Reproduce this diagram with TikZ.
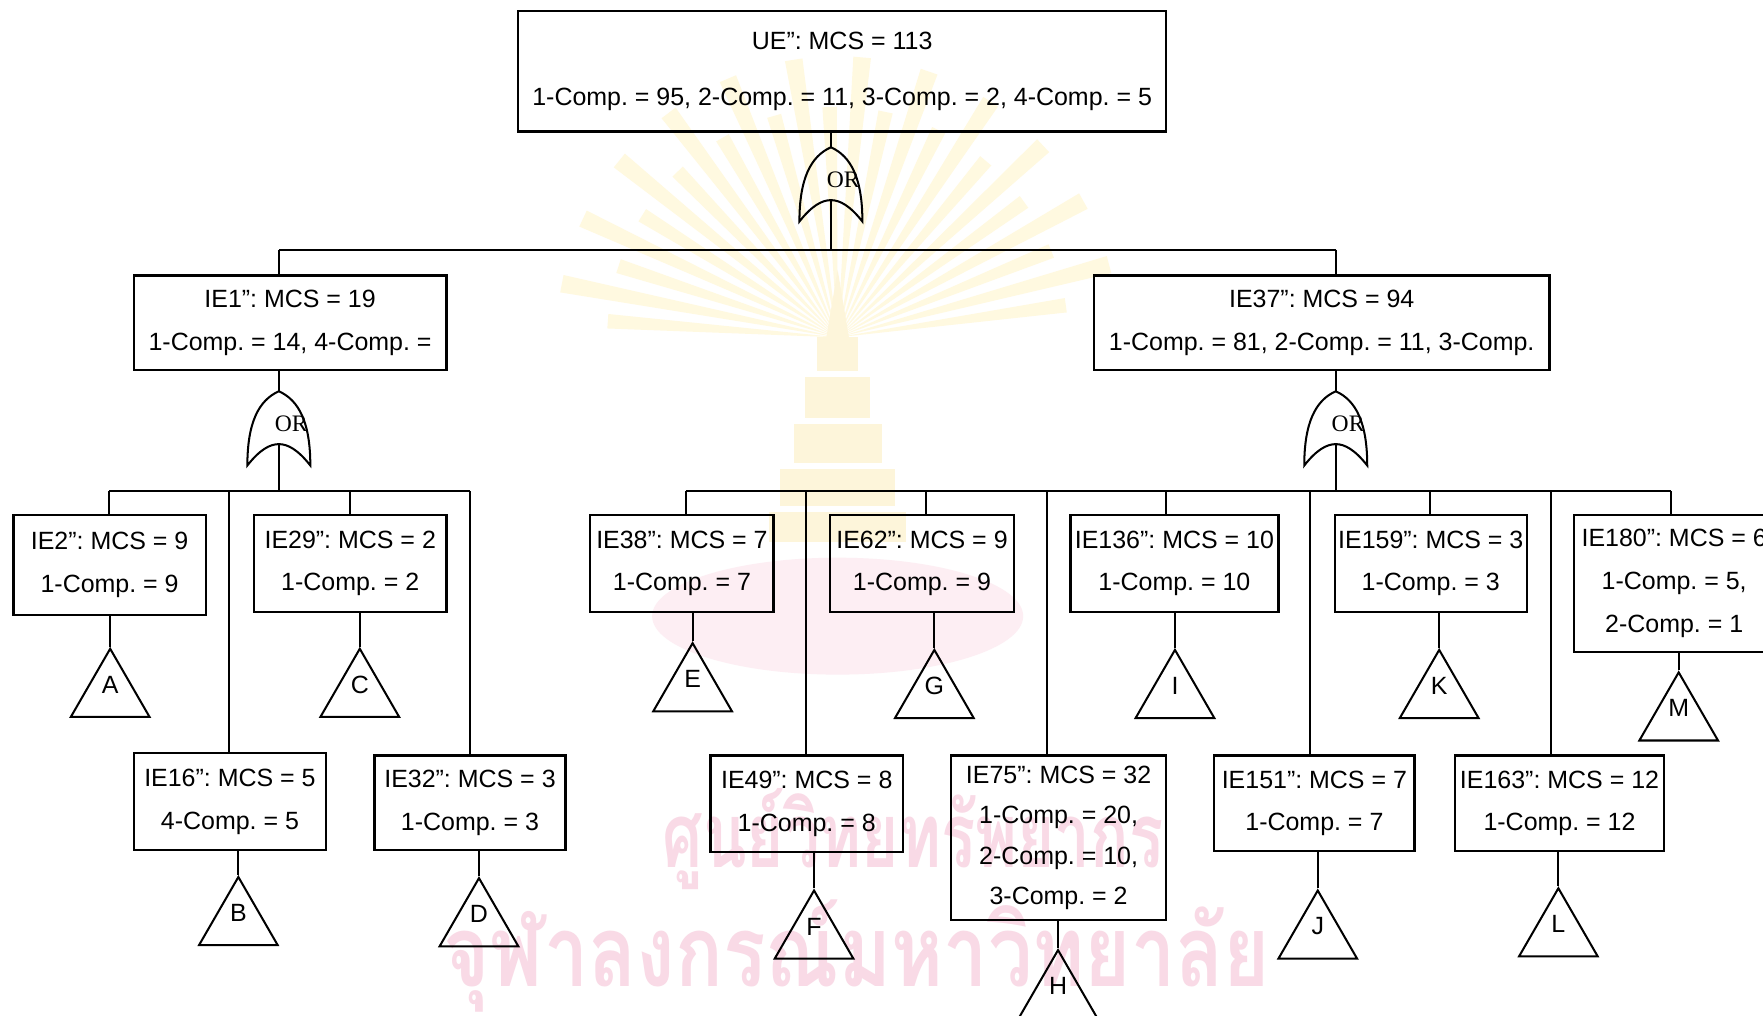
\documentclass[tikz,border=0pt]{standalone}
\usepackage{fontspec}
\usepackage{graphicx}
\setmainfont{Liberation Sans}
\newfontfamily\orfont{Liberation Serif}
\newfontfamily\thaifont[Script=Thai]{Loma}
\usetikzlibrary{shapes.geometric}
\frenchspacing
\definecolor{wmpink}{RGB}{249,218,230}
\definecolor{wmyel}{RGB}{255,249,224}
\definecolor{wmgold}{RGB}{253,245,218}
\definecolor{wmrose}{RGB}{253,238,243}
\newcommand{\orgate}[3]{%
  \draw[gate] (#1,#2) .. controls (#1-18,#2+8) and (#1-28,#2+28) .. (#1-28,#2+66)
    .. controls (#1-17,#2+52) and (#1-8,#2+47) .. (#1,#2+47)
    .. controls (#1+8,#2+47) and (#1+17,#2+52) .. (#1+28,#2+66)
    .. controls (#1+28,#2+28) and (#1+18,#2+8) .. cycle;
  \coordinate (#3in) at (#1,#2);
  \coordinate (#3out) at (#1,#2+47);
  \node[ortext] (#3lab) at (#1+11,#2+29) {OR};}
\begin{document}
\begin{tikzpicture}[x=0.5pt,y=-0.5pt,
  ev/.style={draw, line width=1pt, rectangle, inner sep=0pt, align=center,
    font=\fontsize{11.1}{19}\selectfont},
  wire/.style={line width=0.9pt},
  gate/.style={line width=0.9pt},
  tri/.style={draw, line width=0.9pt, regular polygon, regular polygon sides=3,
    minimum size=40.4pt, inner sep=0pt},
  trilab/.style={font=\fontsize{11.1}{13}\selectfont, inner sep=0pt},
  ortext/.style={font=\orfont\fontsize{10.5}{12}\selectfont, inner sep=0pt},
  wm/.style={inner sep=0pt, text=wmpink}
]
\useasboundingbox (0,0) rectangle (1568,903);
\clip (0,0) rectangle (1568,903);
\fill[white] (0,0) rectangle (1568,903);

% ---------- watermark ----------
\foreach \a [count=\i] in {-176,-169,...,-4} {
  \pgfmathsetmacro\len{ifthenelse(mod(\i,2)==0,250,205)}
  \fill[wmyel] (745,300) -- +(\a-1.8:\len) -- +(\a+1.8:\len) -- cycle;
}
\fill[wmgold] (745,240) -- (735,300) -- (755,300) -- cycle;
\fill[wmgold] (727,300) rectangle (763,330);
\fill[wmgold] (716,335) rectangle (774,372);
\fill[wmgold] (706,377) rectangle (784,412);
\fill[wmgold] (694,417) rectangle (796,450);
\fill[wmgold] (684,455) rectangle (806,482);
\fill[wmrose] (745,548) ellipse [x radius=165, y radius=52];
\node[wm] (wm1) at (812,746) {\resizebox*{222.5pt}{45pt}{\thaifont\bfseries ศูนย์วิทยทรัพยากร}};
\node[wm] (wm2) at (762,850) {\resizebox*{367.5pt}{50pt}{\thaifont\bfseries จุฬาลงกรณ์มหาวิทยาลัย}};

% ---------- boxes ----------
\node[ev, minimum width=288pt, minimum height=53.5pt, font=\fontsize{11.1}{25}\selectfont] (ue) at (749,63.5)
  {UE”: MCS = 113\\1-Comp. = 95, 2-Comp. = 11, 3-Comp. = 2, 4-Comp. = 5};
\node[ev, minimum width=139pt, minimum height=42pt] (ie1) at (258,287)
  {IE1”: MCS = 19\\1-Comp. = 14, 4-Comp. =};
\node[ev, minimum width=202.5pt, minimum height=42pt] (ie37) at (1175.5,287)
  {IE37”: MCS = 94\\1-Comp. = 81, 2-Comp. = 11, 3-Comp.};
\node[ev, minimum width=85.5pt, minimum height=44.5pt] (ie2) at (97.5,502.5)
  {IE2”: MCS = 9\\1-Comp. = 9};
\node[ev, minimum width=85.5pt, minimum height=43pt] (ie29) at (311.5,501)
  {IE29”: MCS = 2\\1-Comp. = 2};
\node[ev, minimum width=85.5pt, minimum height=43pt] (ie16) at (204.5,713)
  {IE16”: MCS = 5\\4-Comp. = 5};
\node[ev, minimum width=85pt, minimum height=42pt] (ie32) at (418,714)
  {IE32”: MCS = 3\\1-Comp. = 3};
\node[ev, minimum width=81.5pt, minimum height=43pt] (ie38) at (606.5,501)
  {IE38”: MCS = 7\\1-Comp. = 7};
\node[ev, minimum width=82pt, minimum height=43pt] (ie62) at (820,501)
  {IE62”: MCS = 9\\1-Comp. = 9};
\node[ev, minimum width=92.5pt, minimum height=43pt] (ie136) at (1044.5,501)
  {IE136”: MCS = 10\\1-Comp. = 10};
\node[ev, minimum width=85.5pt, minimum height=43pt] (ie159) at (1272.5,501)
  {IE159”: MCS = 3\\1-Comp. = 3};
\node[ev, minimum width=89pt, minimum height=61pt] (ie180) at (1489,519)
  {IE180”: MCS = 6\\1-Comp. = 5,\\2-Comp. = 1};
\node[ev, minimum width=85.5pt, minimum height=43pt] (ie49) at (717.5,715)
  {IE49”: MCS = 8\\1-Comp. = 8};
\node[ev, minimum width=95.5pt, minimum height=73pt, font=\fontsize{11.1}{18}\selectfont] (ie75) at (941.5,745)
  {IE75”: MCS = 32\\1-Comp. = 20,\\2-Comp. = 10,\\3-Comp. = 2};
\node[ev, minimum width=89pt, minimum height=42.5pt] (ie151) at (1169,714.5)
  {IE151”: MCS = 7\\1-Comp. = 7};
\node[ev, minimum width=93pt, minimum height=42.5pt] (ie163) at (1387,714.5)
  {IE163”: MCS = 12\\1-Comp. = 12};

% ---------- OR gates ----------
\orgate{739}{131}{g0}
\orgate{248}{348}{g1}
\orgate{1188}{348}{g2}

% top level
\coordinate (b0L) at (248,222);
\coordinate (b0R) at (1188,222);
\draw[wire] (ue.south -| g0in) -- (g0in);
\draw[wire] (g0out) -- (g0out |- b0L);
\draw[wire] (b0L) -- (b0R);
\draw[wire] (b0L) -- (b0L |- ie1.north);
\draw[wire] (b0R) -- (b0R |- ie37.north);

% left group
\draw[wire] (ie1.south -| g1in) -- (g1in);
\coordinate (l1) at (97,437);
\coordinate (l2) at (204,437);
\coordinate (l3) at (311,437);
\coordinate (l4) at (418,437);
\draw[wire] (g1out) -- (g1out |- l1);
\draw[wire] (l1) -- (l4);
\draw[wire] (l1) -- (l1 |- ie2.north);
\draw[wire] (l2) -- (l2 |- ie16.north);
\draw[wire] (l3) -- (l3 |- ie29.north);
\draw[wire] (l4) -- (l4 |- ie32.north);

% right group
\draw[wire] (ie37.south -| g2in) -- (g2in);
\coordinate (r1) at (610,437);
\coordinate (r2) at (717,437);
\coordinate (r3) at (824,437);
\coordinate (r4) at (931,437);
\coordinate (r5) at (1037,437);
\coordinate (r6) at (1165,437);
\coordinate (r7) at (1272,437);
\coordinate (r8) at (1379,437);
\coordinate (r9) at (1486,437);
\draw[wire] (g2out) -- (g2out |- r1);
\draw[wire] (r1) -- (r9);
\draw[wire] (r1) -- (r1 |- ie38.north);
\draw[wire] (r2) -- (r2 |- ie49.north);
\draw[wire] (r3) -- (r3 |- ie62.north);
\draw[wire] (r4) -- (r4 |- ie75.north);
\draw[wire] (r5) -- (r5 |- ie136.north);
\draw[wire] (r6) -- (r6 |- ie151.north);
\draw[wire] (r7) -- (r7 |- ie159.north);
\draw[wire] (r8) -- (r8 |- ie163.north);
\draw[wire] (r9) -- (r9 |- ie180.north);

% ---------- transfer triangles ----------
\foreach \nm/\bx/\x/\ap in {A/ie2/98/577, C/ie29/320/577, B/ie16/212/780, D/ie32/426/781,
  E/ie38/616/572, G/ie62/831/578, I/ie136/1045/578, K/ie159/1280/578, M/ie180/1493/598,
  F/ie49/724/792, H/ie75/941/845, J/ie151/1172/792, L/ie163/1386/790} {
  \node[tri] (t\nm) at (\x,\ap+40.4) {};
  \node[trilab] (lab\nm) at (\x,\ap+32) {\nm};
  \draw[wire] (t\nm.north) -- (t\nm.north |- \bx.south);
}
\end{tikzpicture}
\end{document}
